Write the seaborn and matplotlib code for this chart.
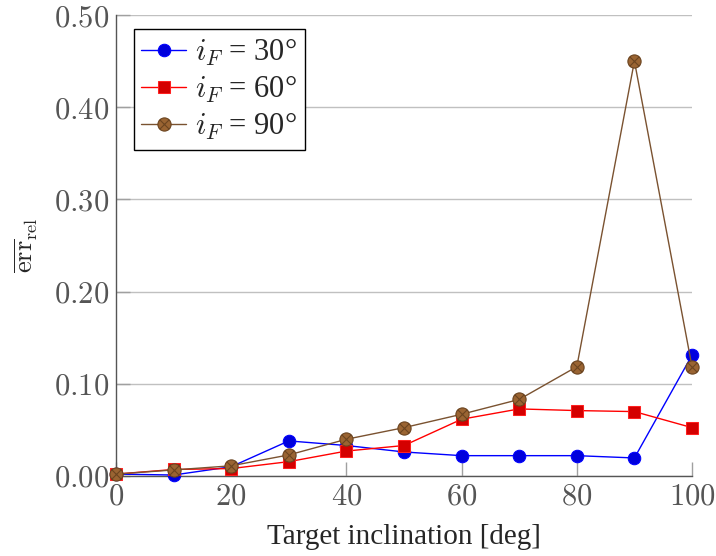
import numpy as np
import pandas as pd
import seaborn as sns
import matplotlib
matplotlib.use("Agg")
import matplotlib.pyplot as plt
from matplotlib.path import Path

inclination = [0, 10, 20, 30, 40, 50, 60, 70, 80, 90, 100]
err_30 = [0.002, 0.001, 0.010, 0.038, 0.033, 0.026, 0.022, 0.022, 0.022, 0.0195, 0.131]
err_60 = [0.002, 0.007, 0.008, 0.0155, 0.027, 0.033, 0.0615, 0.0727, 0.0709, 0.0698, 0.0524]
err_90 = [0.002, 0.0065, 0.011, 0.0228, 0.0398, 0.0524, 0.0669, 0.083, 0.1185, 0.450, 0.1185]
series_labels = [r"$i_F$ = 30°", r"$i_F$ = 60°", r"$i_F$ = 90°"]
y_ticks = [0.0, 0.1, 0.2, 0.3, 0.4, 0.5]
x_ticks = [0, 20, 40, 60, 80, 100]

sns.set_theme(style="white")
plt.rcParams["font.family"] = ["Liberation Serif", "DejaVu Serif"]
plt.rcParams["mathtext.fontset"] = "cm"

fig = plt.figure(figsize=(7.16, 5.56), dpi=100)
ax = fig.add_axes([0.162, 0.144, 0.9665 - 0.162, 0.973 - 0.144])

# otimes marker
c = 0.7071
otimes = Path.make_compound_path(
    Path.unit_circle(),
    Path([(-c, -c), (c, c)], [Path.MOVETO, Path.LINETO]),
    Path([(-c, c), (c, -c)], [Path.MOVETO, Path.LINETO]),
)

styles = [
    dict(color="#0000ff", marker="o", markersize=9, markerfacecolor="#0000dd",
         markeredgecolor="#0000ff", linewidth=1.0),
    dict(color="#ff0000", marker="s", markersize=8.5, markerfacecolor="#d40000",
         markeredgecolor="#ff2020", linewidth=1.0),
    dict(color="#7a5230", marker=otimes, markersize=9.5, markerfacecolor="#9a6432",
         markeredgecolor="#6b4420", markeredgewidth=0.8, linewidth=1.0),
]

for vals, lab, st in zip([err_30, err_60, err_90], series_labels, styles):
    df = pd.DataFrame({"x": inclination, "y": vals})
    sns.lineplot(data=df, x="x", y="y", ax=ax, label=lab, clip_on=False, zorder=3, **st)

ax.set_xlim(0, 100)
ax.set_ylim(0, 0.5)
ax.set_xticks(x_ticks)
ax.set_yticks(y_ticks)
ax.set_xticklabels([f"${t}$" for t in x_ticks])
ax.set_yticklabels([f"${t:.2f}$" for t in y_ticks])
ax.yaxis.grid(True, color="#c0c0c0", linewidth=1.0)
ax.xaxis.grid(False)
ax.set_axisbelow(True)
for s in ["top", "right"]:
    ax.spines[s].set_visible(False)
for s in ["left", "bottom"]:
    ax.spines[s].set_color("#555555")
    ax.spines[s].set_linewidth(1.0)
ax.tick_params(axis="both", direction="in", length=10, width=1.0, color="#a0a0a0",
               labelsize=22, labelcolor="#555555", pad=5)
ax.tick_params(axis="x", bottom=True)
ax.tick_params(axis="y", left=True)

ax.set_xlabel("Target inclination [deg]", fontsize=21, labelpad=9)
ax.set_ylabel(r"$\overline{\mathrm{err}}_{\mathrm{rel}}$", fontsize=19, labelpad=10)

leg = ax.legend(loc="upper left", bbox_to_anchor=(0.031, 0.97), borderaxespad=0,
                fontsize=22, frameon=True, fancybox=False, edgecolor="black",
                framealpha=1, handlelength=1.45, handletextpad=0.3, borderpad=0.25,
                labelspacing=0.2)
leg.get_frame().set_linewidth(1.0)

fig.savefig("out.png", dpi=100)
